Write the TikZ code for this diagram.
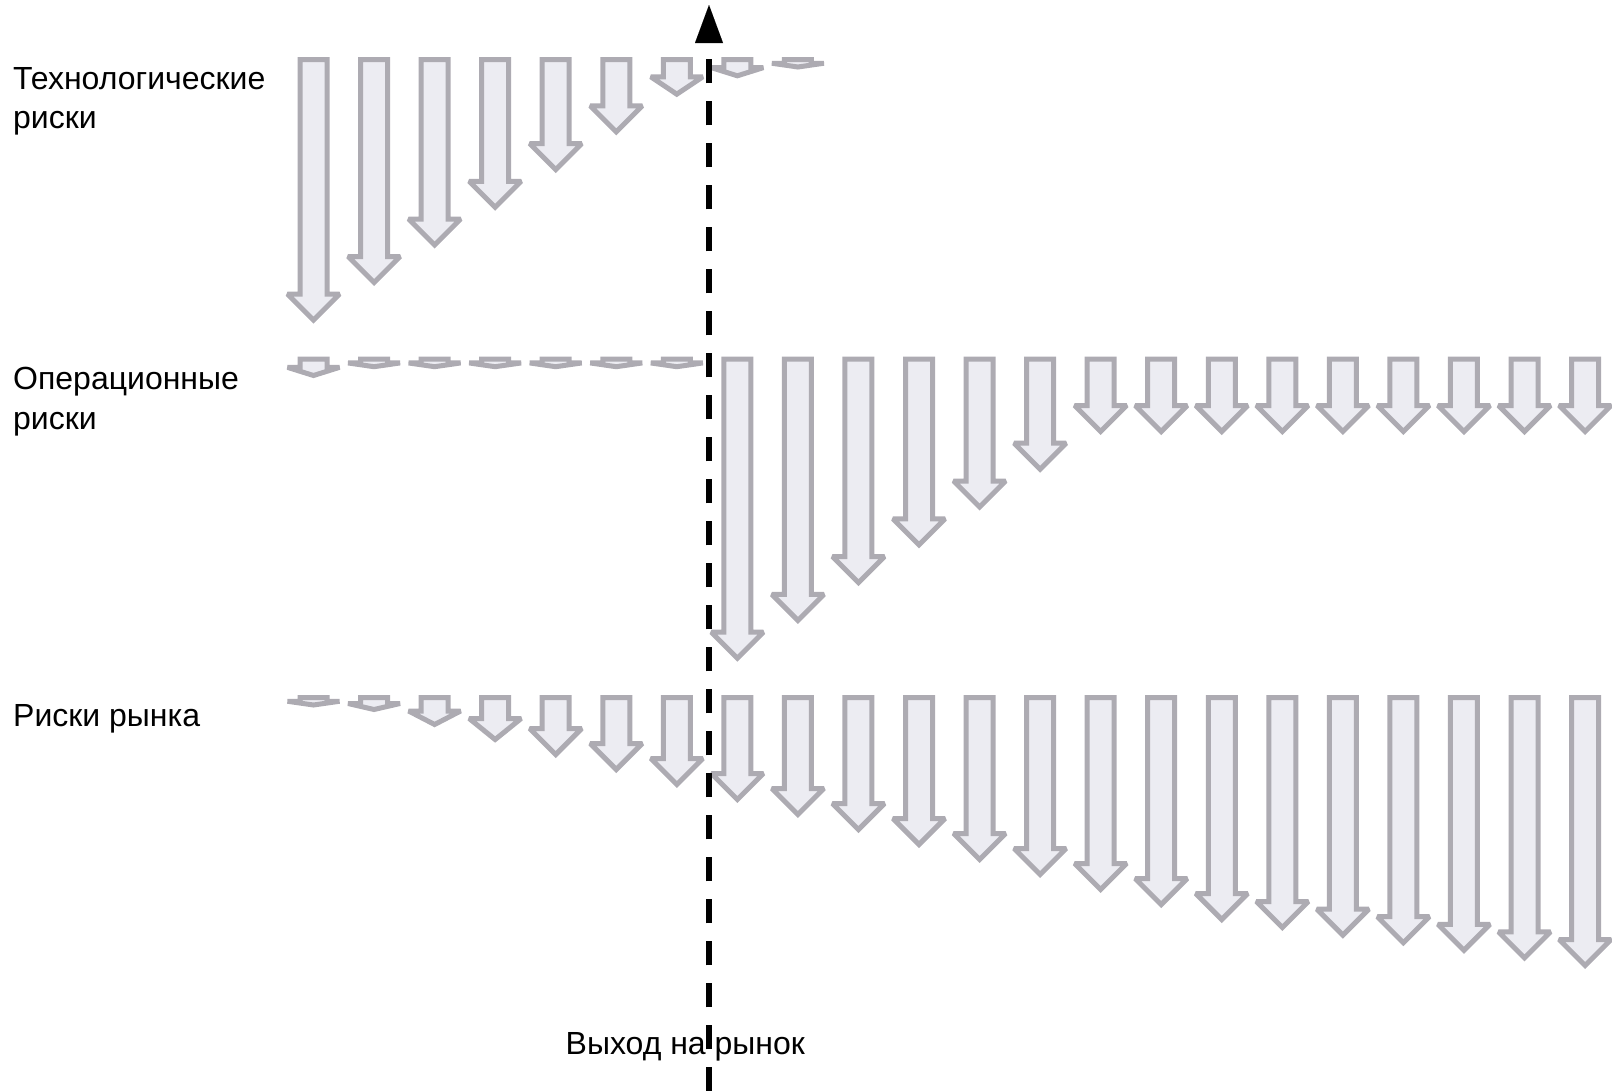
\documentclass[tikz,border=0pt]{standalone}
\usepackage{fontspec}
\setmainfont{Liberation Sans}
\usetikzlibrary{arrows.meta}
\definecolor{arrfill}{RGB}{236,236,242}
\definecolor{arrdraw}{RGB}{173,171,178}
\tikzset{
  riskarrow/.style={draw=arrdraw, fill=arrfill, line width=5pt, line join=miter, miter limit=2},
  rowlabel/.style={anchor=base west, inner sep=0pt, align=left,
    font=\fontsize{32}{39.5}\selectfont},
  exitline/.style={line width=5.5pt, dash pattern=on 24pt off 18pt,
    -{Triangle[length=38pt,width=28pt,line width=0.01pt]}}
}
\newcommand\riskrow[2]{%
  \foreach \i/\h in {#2} {%
    \pgfmathsetmacro\xc{313.5+60.55*\i}%
    \pgfmathsetmacro\hl{0.5*min(52,\h)}%
    \pgfmathsetmacro\yb{#1+\h}%
    \pgfmathsetmacro\yw{#1+\h-\hl}%
    \draw[riskarrow] ({\xc-13.5},#1) -- ({\xc+13.5},#1) -- ({\xc+13.5},\yw)
      -- ({\xc+26},\yw) -- (\xc,\yb) -- ({\xc-26},\yw) -- ({\xc-13.5},\yw) -- cycle;
  }%
}
\begin{document}
\begin{tikzpicture}[x=1pt,y=-1pt]
\useasboundingbox (0,0) rectangle (1612,1090);
% technological risks
\riskrow{59.5}{0/260.6,1/223,2/185.5,3/147.8,4/110.1,5/72.4,6/34.7,7/16.3,8/7.5}
% operational risks
\riskrow{359.2}{0/16.3,1/7.5,2/7.5,3/7.5,4/7.5,5/7.5,6/7.5,7/299,8/261.2,9/223.4,10/185.6,11/147.8,12/110,13/72.3,14/72.3,15/72.3,16/72.3,17/72.3,18/72.3,19/72.3,20/72.3,21/72.3}
% market risks
\riskrow{697.5}{0/7.5,1/12,2/27,3/42,4/57,5/72,6/87,7/102,8/117,9/132,10/147,11/162,12/177,13/192,14/207,15/222,16/230,17/237.6,18/245.2,19/252.8,20/260.4,21/268}
% labels
\node[rowlabel] (tech) at (13,128.5) {Технологические\\риски};
\node[rowlabel] (oper) at (13,429) {Операционные\\риски};
\node[rowlabel] (mark) at (13,726.7) {Риски рынка};
\node[rowlabel] (exitlbl) at (565.5,1054) {Выход на рынок};
% market entry line
\coordinate (mbot) at (709,1091.3);
\coordinate (mtop) at (709,5);
\draw[exitline] (mbot) -- (mtop);
\end{tikzpicture}
\end{document}
